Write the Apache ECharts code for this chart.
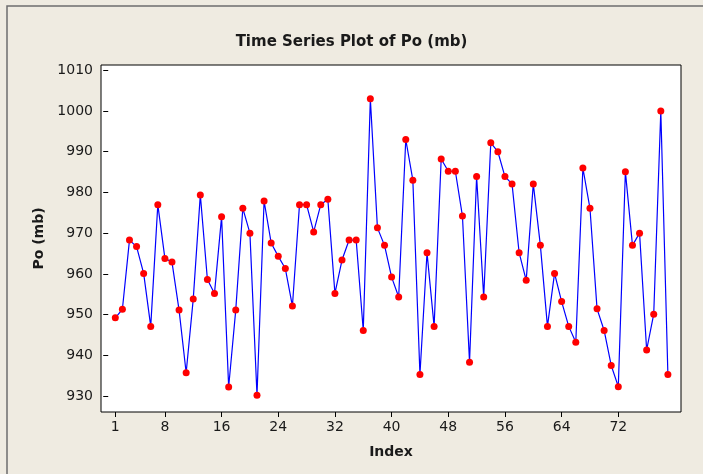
<!DOCTYPE html>
<html>
<head>
<meta charset="utf-8">
<script src="https://cdn.jsdelivr.net/npm/echarts@6/dist/echarts.min.js"></script>
<style>
html, body { margin: 0; padding: 0; background: #efebe1; }
#main { width: 703px; height: 474px; }
</style>
</head>
<body>
<div id="main"></div>
<script>
// pressure readings, index 1..79
var po = [
    949.2, 951.3, 968.3, 966.7, 960.1, 947.1, 977.0, 963.8, 962.9, 951.1,
    935.7, 953.8, 979.4, 958.6, 955.2, 974.0, 932.2, 951.1, 976.1, 970.0,
    930.2, 977.9, 967.6, 964.3, 961.3, 952.1, 977.0, 977.0, 970.3, 977.0,
    978.3, 955.2, 963.4, 968.3, 968.3, 946.1, 1003.0, 971.3, 967.0, 959.2,
    954.3, 993.0, 983.0, 935.3, 965.2, 947.1, 988.2, 985.2, 985.2, 974.2,
    938.3, 983.9, 954.3, 992.2, 990.0, 983.9, 982.1, 965.2, 958.4, 982.1,
    967.0, 947.1, 960.1, 953.2, 947.1, 943.2, 986.0, 976.1, 951.4, 946.1,
    937.5, 932.3, 985.1, 967.0, 970.0, 941.3, 950.1, 1000.0, 935.3
];
var xTicks = [1, 8, 16, 24, 32, 40, 48, 56, 64, 72];
var yTicks = [930, 940, 950, 960, 970, 980, 990, 1000, 1010];

var pts = [];
for (var i = 0; i < po.length; i++) {
    pts.push([i + 1, po[i]]);
}

var chart = echarts.init(document.getElementById('main'));
var txt = '#1a1a1a';
var font = 'DejaVu Sans';

chart.setOption({
    backgroundColor: '#efebe1',
    animation: false,
    graphic: [{
        type: 'rect',
        shape: { x: 7, y: 6, width: 720, height: 500 },
        style: { fill: 'none', stroke: '#6e6e6e', lineWidth: 1.5 },
        silent: true
    }],
    title: {
        text: 'Time Series Plot of Po (mb)',
        left: 'center',
        top: 30,
        textStyle: { fontFamily: font, fontSize: 15, fontWeight: 'bold', color: txt }
    },
    grid: {
        left: 101, right: 22, top: 65, bottom: 62,
        show: true,
        backgroundColor: '#ffffff',
        borderColor: '#000000',
        borderWidth: 1
    },
    xAxis: {
        type: 'value',
        min: -1.02,
        max: 80.85,
        name: 'Index',
        nameLocation: 'middle',
        nameGap: 33,
        nameTextStyle: { fontFamily: font, fontSize: 14, fontWeight: 'bold', color: txt },
        axisLine: { show: false },
        splitLine: { show: false },
        axisTick: { show: true, customValues: xTicks, length: 5, lineStyle: { color: '#000' } },
        axisLabel: { customValues: xTicks, fontFamily: font, fontSize: 14, color: txt, margin: 8 }
    },
    yAxis: {
        type: 'value',
        min: 926.07,
        max: 1011.3,
        name: 'Po (mb)',
        nameLocation: 'middle',
        nameGap: 54,
        nameRotate: 90,
        nameTextStyle: { fontFamily: font, fontSize: 14, fontWeight: 'bold', color: txt },
        axisLine: { show: false },
        splitLine: { show: false },
        axisTick: { show: true, customValues: yTicks, length: 5, lineStyle: { color: '#000' } },
        axisLabel: {
            customValues: yTicks, fontFamily: font, fontSize: 14, color: txt, margin: 8,
            formatter: function (v) { return String(v); }
        }
    },
    series: [{
        type: 'line',
        data: pts,
        symbol: 'circle',
        symbolSize: 7,
        lineStyle: { color: '#0000ff', width: 1.2 },
        itemStyle: { color: '#ff0000', borderWidth: 0 }
    }]
});
</script>
</body>
</html>
